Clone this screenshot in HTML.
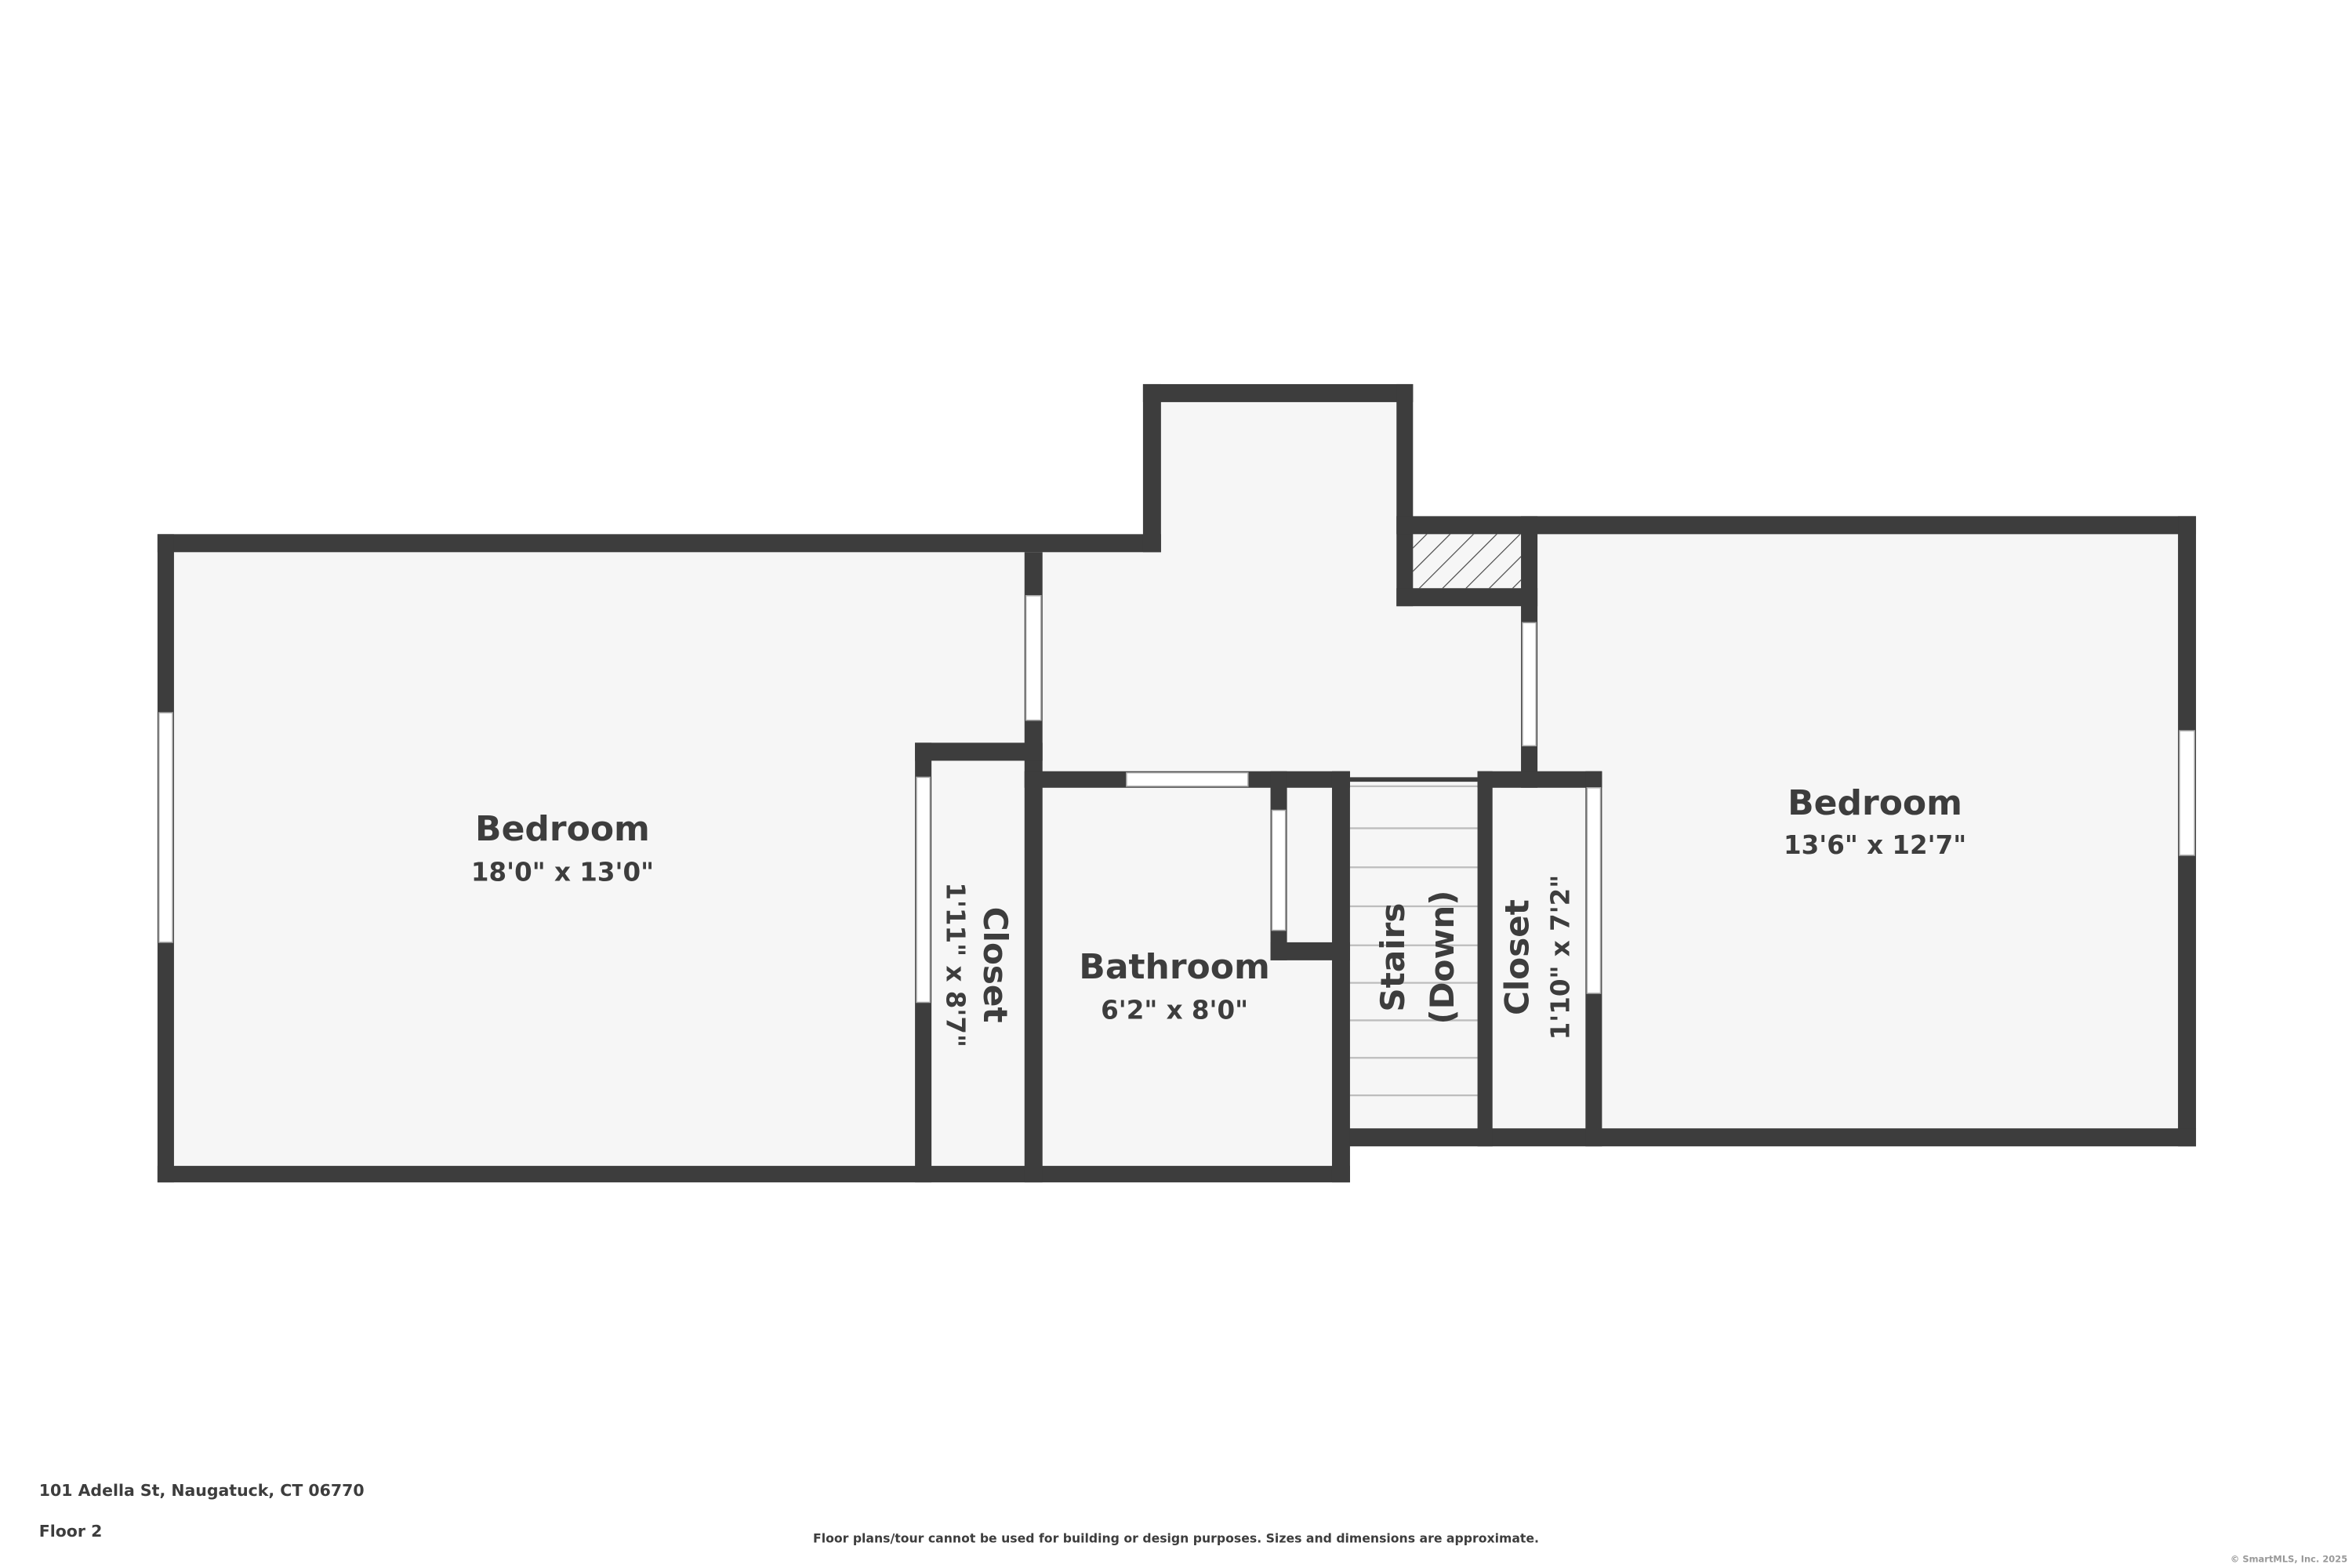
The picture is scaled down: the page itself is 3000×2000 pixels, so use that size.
<!DOCTYPE html>
<html><head><meta charset="utf-8"><style>
html,body{margin:0;padding:0;background:#fff;}
svg{display:block;}
text{font-family:"DejaVu Sans","Liberation Sans",sans-serif;fill:#3d3d3d;}
</style></head><body>
<svg width="3000" height="2000" viewBox="0 0 1568 1045" preserveAspectRatio="none" xmlns="http://www.w3.org/2000/svg">
<defs>
<pattern id="h" width="11" height="11" patternUnits="userSpaceOnUse" patternTransform="rotate(45)">
<rect width="11" height="11" fill="#f6f6f6"/><line x1="0" y1="0" x2="0" y2="11" stroke="#444" stroke-width="1.2"/>
</pattern>
</defs>
<rect width="1568" height="1045" fill="#fff"/>
<g fill="#f6f6f6">
<rect x="110" y="362" width="660" height="420"/>
<rect x="768" y="262" width="170" height="110"/>
<rect x="690" y="362" width="330" height="160"/>
<rect x="1020" y="350" width="438" height="408"/>
<rect x="690" y="510" width="205" height="272"/>
<rect x="895" y="518" width="170" height="240"/>
</g>
<rect x="942" y="356" width="72" height="36" fill="url(#h)"/>
<g stroke="#bdbdbd" stroke-width="1.2">
<line x1="900" y1="524" x2="985" y2="524"/>
<line x1="900" y1="552" x2="985" y2="552"/>
<line x1="900" y1="578" x2="985" y2="578"/>
<line x1="900" y1="604" x2="985" y2="604"/>
<line x1="900" y1="630" x2="985" y2="630"/>
<line x1="900" y1="655" x2="985" y2="655"/>
<line x1="900" y1="680" x2="985" y2="680"/>
<line x1="900" y1="705" x2="985" y2="705"/>
<line x1="900" y1="730" x2="985" y2="730"/>
</g>
<rect x="900" y="518" width="85" height="3" fill="#3d3d3d"/>
<g fill="#3d3d3d">
<rect x="105" y="356" width="669" height="12"/>
<rect x="105" y="356" width="11" height="432"/>
<rect x="105" y="777" width="795" height="11"/>
<rect x="762" y="256" width="12" height="112"/>
<rect x="762" y="256" width="180" height="12"/>
<rect x="931" y="256" width="11" height="148"/>
<rect x="931" y="344" width="533" height="12"/>
<rect x="931" y="392" width="94" height="12"/>
<rect x="1014" y="344" width="11" height="181"/>
<rect x="1452" y="344" width="12" height="420"/>
<rect x="890" y="752" width="574" height="12"/>
<rect x="683" y="368" width="12" height="420"/>
<rect x="610" y="495" width="85" height="12"/>
<rect x="610" y="495" width="11" height="293"/>
<rect x="683" y="514" width="217" height="11"/>
<rect x="888" y="514" width="12" height="274"/>
<rect x="847" y="514" width="11" height="126"/>
<rect x="847" y="628" width="53" height="12"/>
<rect x="985" y="514" width="10" height="250"/>
<rect x="985" y="514" width="83" height="11"/>
<rect x="1057" y="514" width="11" height="250"/>
</g>
<g fill="#fff" stroke="#aaa" stroke-width="0.8">
<rect x="106" y="475" width="9" height="153"/>
<rect x="1453" y="487" width="10" height="83"/>
<rect x="684" y="397" width="10" height="83"/>
<rect x="1015" y="415" width="9" height="82"/>
<rect x="611" y="518" width="9" height="150"/>
<rect x="751" y="515" width="81" height="9"/>
<rect x="848" y="540" width="9" height="80"/>
<rect x="1058" y="525" width="9" height="137"/>
</g>
<g font-weight="bold" text-anchor="middle">
<text x="375" y="560" font-size="23">Bedroom</text>
<text x="375" y="587" font-size="17">18'0" x 13'0"</text>
<text x="1250" y="543" font-size="23">Bedroom</text>
<text x="1250" y="569" font-size="17">13'6" x 12'7"</text>
<text x="783" y="652" font-size="23">Bathroom</text>
<text x="783" y="679" font-size="17">6'2" x 8'0"</text>
<text transform="translate(656,643) rotate(90)" font-size="22">Closet</text>
<text transform="translate(631,643) rotate(90)" font-size="17">1'11" x 8'7"</text>
<text transform="translate(936,638) rotate(-90)" font-size="22">Stairs</text>
<text transform="translate(969,638) rotate(-90)" font-size="22">(Down)</text>
<text transform="translate(1019,638) rotate(-90)" font-size="22">Closet</text>
<text transform="translate(1046,638) rotate(-90)" font-size="17">1'10" x 7'2"</text>
</g>
<g font-weight="bold">
<text x="26" y="997" font-size="10.7">101 Adella St, Naugatuck, CT 06770</text>
<text x="26" y="1024" font-size="10.7">Floor 2</text>
<text x="784" y="1028" font-size="8.2" text-anchor="middle">Floor plans/tour cannot be used for building or design purposes. Sizes and dimensions are approximate.</text>
<text x="1565" y="1041" font-size="6" text-anchor="end" style="fill:#999">© SmartMLS, Inc. 2025</text>
</g>
</svg>
</body></html>
